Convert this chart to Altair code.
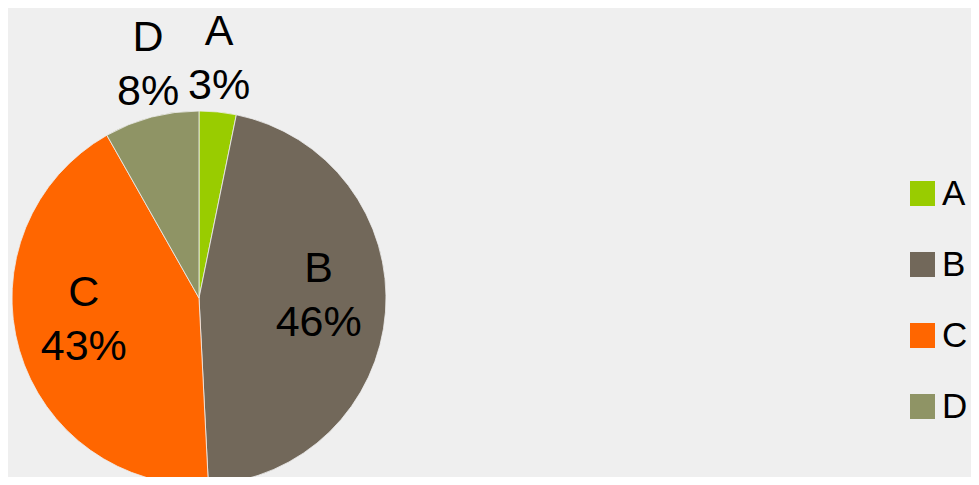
import altair as alt
import pandas as pd

cats = ["A", "B", "C", "D"]
vals = [3.2, 46.0, 42.6, 8.2]
pct_labels = ["3%", "46%", "43%", "8%"]
colors = ["#99cc00", "#72685a", "#ff6600", "#8f9465"]

df = pd.DataFrame({"cat": cats, "v": vals, "pct": pct_labels})

CX, CY, R = 191, 290, 187
FONT = "Liberation Sans"

base = alt.Chart(df).encode(
    theta=alt.Theta("v:Q", stack=True),
    order=alt.Order("cat:N"),
    x=alt.value(CX),
    y=alt.value(CY),
)

arcs = base.mark_arc(radius=R, stroke="#efefef", strokeWidth=0.8).encode(
    color=alt.Color(
        "cat:N",
        scale=alt.Scale(domain=cats, range=colors),
        legend=alt.Legend(
            title=None,
            orient="none",
            legendX=897,
            legendY=168,
            symbolType="square",
            symbolSize=625,
            symbolStrokeWidth=0,
            symbolOpacity=1,
            labelFont=FONT,
            labelFontSize=35,
            labelColor="#000000",
            labelOffset=2,
            rowPadding=35,
            padding=0,
        ),
    )
)

text_style = dict(font=FONT, fontSize=43, lineBreak="\n", lineHeight=54,
                  color="#000000", align="center", baseline="middle")

outside = base.transform_calculate(
    label="datum.v < 10 ? datum.cat + '\\n' + datum.pct : ''",
).mark_text(radius=200, dy=-67, **text_style).encode(text="label:N")

inside = base.transform_calculate(
    label="datum.v >= 10 ? datum.cat + '\\n' + datum.pct : ''",
).mark_text(radius=120, dy=-38, **text_style).encode(text="label:N")

chart = alt.layer(arcs, outside, inside).properties(
    width=963, height=469, padding=0, autosize=alt.AutoSizeParams(type="none"),
    background="#efefef",
).configure_view(stroke=None)

chart.save("out.html", embed_options={"renderer": "svg", "actions": False})
